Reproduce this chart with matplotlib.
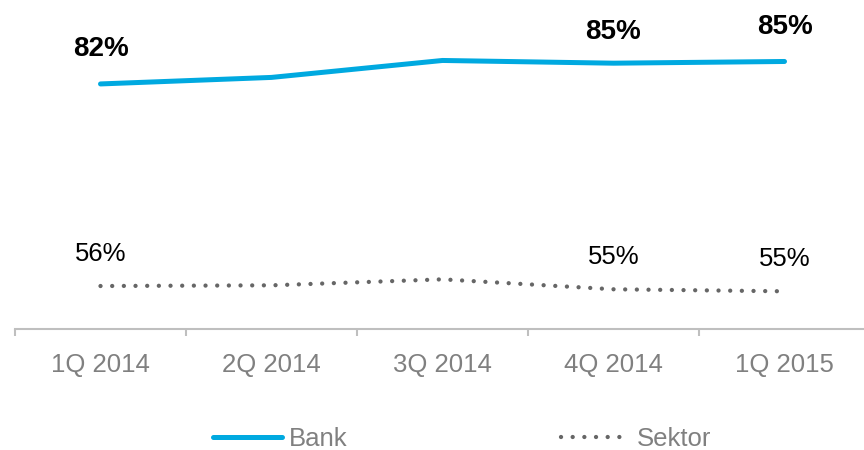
import numpy as np
import matplotlib.pyplot as plt

categories = ["1Q 2014", "2Q 2014", "3Q 2014", "4Q 2014", "1Q 2015"]
bank = [82.0, 82.84, 85.02, 84.67, 84.89]
sektor = [56.0, 56.09, 56.86, 55.58, 55.32]
bank_labels = ["82%", "", "", "85%", "85%"]
sektor_labels = ["56%", "", "", "55%", "55%"]

plt.rcParams['font.family'] = ['Liberation Sans', 'DejaVu Sans']

blue = "#00A9E0"
grey = "#666666"

fig = plt.figure(figsize=(8.64, 4.5), dpi=100)
ax = fig.add_axes([15 / 864, (450 - 329) / 450, 855 / 864, 329 / 450])

x = np.arange(len(categories))
ax.plot(x, bank, color=blue, linewidth=3.6, solid_capstyle='round', label="Bank")
ax.plot(x, sektor, color=grey, linewidth=3.1, linestyle=(0, (0.01, 2.7)),
        dash_capstyle='round', label="Sektor")

# label offsets in points, one per category
bank_off = [25.5, 0, 0, 22.5, 25]
for xi, v, t, o in zip(x, bank, bank_labels, bank_off):
    if t:
        ax.annotate(t, (xi, v), xytext=(0, o), textcoords='offset points',
                    ha='center', va='center', fontsize=20, fontweight='bold', color='black')
for xi, v, t in zip(x, sektor, sektor_labels):
    if t:
        ax.annotate(t, (xi, v), xytext=(0, 23), textcoords='offset points',
                    ha='center', va='center', fontsize=18.5, color='black')

ax.set_xlim(-0.5, 4.5)
ax.set_ylim(50.47, 92.8)

for s in ["left", "right", "top"]:
    ax.spines[s].set_visible(False)
ax.spines["bottom"].set_color("#BFBFBF")
ax.spines["bottom"].set_linewidth(1.5)

ax.set_yticks([])
ax.set_xticks(x)
ax.set_xticklabels(categories, fontsize=18.5, color="#808080")
ax.tick_params(axis='x', which='major', length=0, pad=17)
ax.set_xticks(np.arange(-0.5, 5.0, 1.0), minor=True)
ax.tick_params(axis='x', which='minor', length=5, width=1.5, color="#BFBFBF")

fig.legend(loc='center', bbox_to_anchor=(462 / 864, (450 - 439) / 450),
           ncol=2, frameon=False, fontsize=18.5, labelcolor="#808080",
           handlelength=2.7, handletextpad=0.25, columnspacing=8.3,
           borderpad=0.2)

fig.savefig("out.png", dpi=100)
